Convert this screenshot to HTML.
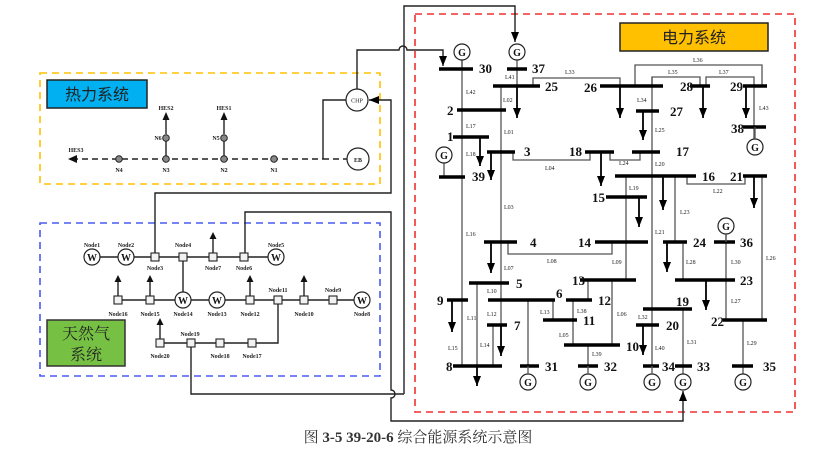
<!DOCTYPE html>
<html><head><meta charset="utf-8"><style>
html,body{margin:0;padding:0;background:#fff;}
svg{display:block;}
.b{stroke:#000;stroke-width:3.5;}
.l{stroke:#555;stroke-width:1.3;fill:none;}
.k{stroke:#222;stroke-width:1.4;fill:none;}
.n{font-family:"Liberation Serif",serif;font-weight:bold;font-size:13px;fill:#111;}
.s{font-family:"Liberation Serif",serif;font-size:6px;fill:#222;}
.g{fill:#fff;stroke:#222;stroke-width:1.2;}
.gt{font-family:"Liberation Serif",serif;font-weight:bold;font-size:10px;fill:#111;text-anchor:middle;}
.sq{fill:#f2f2f2;stroke:#222;stroke-width:1.1;}
</style></head><body>
<svg width="831" height="454" viewBox="0 0 831 454" xmlns="http://www.w3.org/2000/svg">
<defs>
<marker id="a" markerUnits="userSpaceOnUse" markerWidth="10" markerHeight="8" refX="10" refY="4" orient="auto" viewBox="0 0 10 8"><path d="M0,0 L10,4 L0,8 Z" fill="#000"/></marker>
</defs>

<!-- Power system box -->
<rect x="415" y="14" width="380" height="398" fill="none" stroke="#f03030" stroke-width="1.6" stroke-dasharray="7,5"/>
<rect x="620" y="23" width="148" height="28" fill="#FFC000" stroke="#222" stroke-width="1.5"/>
<text x="694" y="43" text-anchor="middle" font-family="'Liberation Sans','Noto Sans CJK SC',sans-serif" font-size="16" fill="#222">电力系统</text>

<!-- Heat box -->
<rect x="40" y="73" width="340" height="111" fill="none" stroke="#FFC000" stroke-width="1.6" stroke-dasharray="7,5"/>
<rect x="47" y="80" width="100" height="28" fill="#00B0F0" stroke="#222" stroke-width="1.5"/>
<text x="97" y="100" text-anchor="middle" font-family="'Liberation Sans','Noto Sans CJK SC',sans-serif" font-size="16" fill="#222">热力系统</text>

<!-- Gas box -->
<rect x="40" y="223" width="340" height="153" fill="none" stroke="#4a5cf0" stroke-width="1.6" stroke-dasharray="7,5"/>
<rect x="47" y="320" width="78" height="46" fill="#76C043" stroke="#333" stroke-width="1.5"/>
<text x="86" y="339" text-anchor="middle" font-family="'Liberation Serif','Noto Serif CJK SC',serif" font-size="16" fill="#222">天然气</text>
<text x="86" y="360" text-anchor="middle" font-family="'Liberation Serif','Noto Serif CJK SC',serif" font-size="16" fill="#222">系统</text>

<!-- Coupling lines -->
<path class="k" d="M357,89 V50 H399 a4,4 0 0 1 8,0 H443 V66" marker-end="url(#a)"/>
<path class="k" d="M404,394 V6 H515 V42" marker-end="url(#a)"/>
<path class="k" d="M155,253 V193 H391 V100 H369" marker-end="url(#a)"/>
<path class="k" d="M245,253 V212 H391 V390 a4,4 0 0 1 0,8 V421 H683 V391" marker-end="url(#a)"/>
<path class="k" d="M191,347 V394 H404"/>

<!-- Heat system -->
<path d="M72,159 H323" stroke="#222" stroke-width="1.6" stroke-dasharray="6,4" fill="none"/>
<path d="M68,159 l9,-4 v8 z" fill="#111"/>
<path d="M323,159 V100 H346" class="k"/>
<path d="M323,159 H347" stroke="#222" stroke-width="1.6" stroke-dasharray="6,4"/>
<path class="k" d="M166,159 V138 M224,159 V138"/>
<path class="k" d="M166,134 V118 M224,134 V118"/>
<path d="M166,112 l-3.5,8 h7 z M224,112 l-3.5,8 h7 z" fill="#111"/>
<g fill="#888" stroke="#222" stroke-width="1">
<circle cx="119" cy="159" r="3.3"/><circle cx="166" cy="159" r="3.3"/><circle cx="224" cy="159" r="3.3"/><circle cx="274" cy="159" r="3.3"/>
<circle cx="166" cy="138" r="3.3"/><circle cx="224" cy="138" r="3.3"/>
</g>
<circle class="g" cx="357" cy="100" r="11"/><text x="357" y="102.5" text-anchor="middle" class="s" font-size="7">CHP</text>
<circle class="g" cx="358" cy="159" r="11"/><text x="358" y="162" text-anchor="middle" class="s" font-weight="bold" font-size="8">EB</text>
<g class="s" text-anchor="middle" font-weight="bold">
<text x="76" y="152">HES3</text><text x="166" y="110">HES2</text><text x="224" y="110">HES1</text>
<text x="158" y="140">N6</text><text x="216" y="140">N5</text>
<text x="119" y="172">N4</text><text x="166" y="172">N3</text><text x="224" y="172">N2</text><text x="274" y="172">N1</text>
</g>

<!-- Gas system -->
<path class="k" d="M92,257 H276 M183,257 V300 M118,300 H362 M160,343 H252 H278 V300"/>
<path class="k" d="M213,253 V238 M118,296 V281 M150,296 V281 M250,296 V281 M304,296 V281 M160,339 V324"/>
<path d="M213,232 l-3.5,7 h7 z M118,275 l-3.5,7 h7 z M150,275 l-3.5,7 h7 z M250,275 l-3.5,7 h7 z M304,275 l-3.5,7 h7 z M160,318 l-3.5,7 h7 z" fill="#111"/>
<g>
<circle class="g" cx="92" cy="257" r="8"/><circle class="g" cx="126" cy="257" r="8"/><circle class="g" cx="276" cy="257" r="8"/>
<circle class="g" cx="183" cy="300" r="8"/><circle class="g" cx="217" cy="300" r="8"/><circle class="g" cx="362" cy="300" r="8"/>
</g>
<g class="gt"><text x="92" y="261">W</text><text x="126" y="261">W</text><text x="276" y="261">W</text><text x="183" y="304">W</text><text x="217" y="304">W</text><text x="362" y="304">W</text></g>
<g>
<rect class="sq" x="151" y="253" width="8" height="8"/><rect class="sq" x="179" y="253" width="8" height="8"/><rect class="sq" x="209" y="253" width="8" height="8"/><rect class="sq" x="240" y="253" width="8" height="8"/>
<rect class="sq" x="114" y="296" width="8" height="8"/><rect class="sq" x="146" y="296" width="8" height="8"/><rect class="sq" x="246" y="296" width="8" height="8"/><rect class="sq" x="274" y="296" width="8" height="8"/><rect class="sq" x="300" y="296" width="8" height="8"/><rect class="sq" x="329" y="296" width="8" height="8"/>
<rect class="sq" x="156" y="339" width="8" height="8"/><rect class="sq" x="187" y="339" width="8" height="8"/><rect class="sq" x="216" y="339" width="8" height="8"/><rect class="sq" x="248" y="339" width="8" height="8"/>
</g>
<g class="s" text-anchor="middle" font-weight="bold" font-size="5.5">
<text x="92" y="247">Node1</text><text x="126" y="247">Node2</text><text x="155" y="270">Node3</text><text x="183" y="247">Node4</text><text x="213" y="270">Node7</text><text x="244" y="270">Node6</text><text x="276" y="247">Node5</text>
<text x="118" y="316">Node16</text><text x="150" y="316">Node15</text><text x="183" y="316">Node14</text><text x="217" y="316">Node13</text><text x="250" y="316">Node12</text><text x="278" y="292">Node11</text><text x="304" y="316">Node10</text><text x="333" y="292">Node9</text><text x="362" y="316">Node8</text>
<text x="160" y="358">Node20</text><text x="190" y="336">Node19</text><text x="220" y="358">Node18</text><text x="252" y="358">Node17</text>
</g>

<!-- Power system thin lines -->
<g class="l">
<path d="M462,60 V366"/>
<path d="M501,86 V345"/>
<path d="M517,60 V86"/>
<path d="M533,86 V78 H620 V86"/>
<path d="M635,86 V65 H762 V86"/>
<path d="M652,86 V77 H700 V86"/>
<path d="M706,86 V77 H754 V139"/>
<path d="M652,77 V366"/>
<path d="M513,152 V160 H590 V152"/>
<path d="M610,152 V160 H640 V152"/>
<path d="M687,176 V184 H745 V176"/>
<path d="M762,176 V320"/>
<path d="M626,176 V280"/>
<path d="M675,176 V242"/>
<path d="M683,242 V280"/>
<path d="M726,234 V320"/>
<path d="M508,242 V254 H612 V242"/>
<path d="M477,283 V366"/>
<path d="M493,325 V366"/>
<path d="M528,300 V366"/>
<path d="M553,300 V320"/>
<path d="M573,300 V345"/>
<path d="M588,280 V300"/>
<path d="M612,280 V345"/>
<path d="M588,345 V366"/>
<path d="M683,309 V374"/>
<path d="M743,320 V374"/>
<path d="M444,163 V177"/>
<path d="M462,44 V69"/>
</g>

<!-- Arrows (loads) -->
<g stroke="#000" stroke-width="1.8">
<path d="M517,86 V118" marker-end="url(#a)"/>
<path d="M620,86 V118" marker-end="url(#a)"/>
<path d="M643,111 V140" marker-end="url(#a)"/>
<path d="M703,86 V118" marker-end="url(#a)"/>
<path d="M746,86 V118" marker-end="url(#a)"/>
<path d="M480,137 V166" marker-end="url(#a)"/>
<path d="M491,152 V180" marker-end="url(#a)"/>
<path d="M601,152 V186" marker-end="url(#a)"/>
<path d="M663,176 V210" marker-end="url(#a)"/>
<path d="M754,176 V208" marker-end="url(#a)"/>
<path d="M639,197 V227" marker-end="url(#a)"/>
<path d="M491,242 V273" marker-end="url(#a)"/>
<path d="M667,242 V272" marker-end="url(#a)"/>
<path d="M706,280 V310" marker-end="url(#a)"/>
<path d="M452,300 V332" marker-end="url(#a)"/>
<path d="M501,325 V356" marker-end="url(#a)"/>
<path d="M643,325 V355" marker-end="url(#a)"/>
<path d="M477,366 V386" marker-end="url(#a)"/>
</g>

<!-- Buses -->
<g class="b">
<path d="M439,69 H473"/><path d="M507,69 H527"/><path d="M493,86 H540"/><path d="M600,86 H663"/><path d="M690,86 H710"/><path d="M743,86 H767"/>
<path d="M457,110 H506"/><path d="M636,111 H659"/><path d="M743,127 H766"/>
<path d="M453,137 H489"/><path d="M487,152 H515"/><path d="M585,152 H614"/><path d="M632,152 H660"/>
<path d="M439,177 H465"/><path d="M615,176 H696"/><path d="M743,176 H767"/>
<path d="M606,197 H647"/>
<path d="M484,242 H517"/><path d="M595,242 H648"/><path d="M663,242 H687"/><path d="M714,242 H735"/>
<path d="M580,280 H636"/><path d="M675,280 H735"/><path d="M469,283 H509"/>
<path d="M488,300 H555"/><path d="M566,300 H592"/><path d="M447,300 H468"/>
<path d="M643,309 H692"/>
<path d="M543,320 H577"/><path d="M723,320 H767"/>
<path d="M487,325 H507"/><path d="M636,325 H659"/>
<path d="M564,345 H620"/>
<path d="M453,366 H502"/><path d="M520,366 H539"/><path d="M578,366 H598"/><path d="M643,366 H659"/><path d="M675,366 H692"/><path d="M732,366 H753"/>
</g>

<!-- Generators -->
<g>
<circle class="g" cx="462" cy="52" r="8"/><circle class="g" cx="517" cy="52" r="8"/><circle class="g" cx="444" cy="155" r="8"/><circle class="g" cx="755" cy="147" r="8"/><circle class="g" cx="726" cy="226" r="8"/>
<circle class="g" cx="528" cy="382" r="8"/><circle class="g" cx="588" cy="382" r="8"/><circle class="g" cx="652" cy="382" r="8"/><circle class="g" cx="683" cy="382" r="8"/><circle class="g" cx="743" cy="382" r="8"/>
</g>
<path class="l" d="M755,127 V139 M726,234 V242 M528,366 V374 M588,366 V374 M652,366 V374"/>
<g class="gt">
<text x="462" y="56">G</text><text x="517" y="56">G</text><text x="444" y="159">G</text><text x="755" y="151">G</text><text x="726" y="230">G</text>
<text x="528" y="386">G</text><text x="588" y="386">G</text><text x="652" y="386">G</text><text x="683" y="386">G</text><text x="743" y="386">G</text>
</g>

<!-- Bus numbers -->
<g class="n">
<text x="479" y="73">30</text><text x="532" y="73">37</text><text x="545" y="91">25</text><text x="584" y="92">26</text><text x="680" y="91">28</text><text x="730" y="91">29</text>
<text x="447" y="115">2</text><text x="670" y="116">27</text><text x="731" y="133">38</text>
<text x="447" y="141">1</text><text x="524" y="156">3</text><text x="569" y="156">18</text><text x="676" y="156">17</text>
<text x="472" y="181">39</text><text x="702" y="181">16</text><text x="730" y="181">21</text>
<text x="592" y="202">15</text>
<text x="530" y="247">4</text><text x="578" y="247">14</text><text x="693" y="247">24</text><text x="740" y="247">36</text>
<text x="572" y="285">13</text><text x="740" y="285">23</text><text x="516" y="288">5</text>
<text x="556" y="298">6</text><text x="598" y="305">12</text><text x="437" y="305">9</text><text x="676" y="306">19</text>
<text x="583" y="325">11</text><text x="711" y="326">22</text><text x="514" y="330">7</text><text x="666" y="330">20</text>
<text x="626" y="351">10</text>
<text x="446" y="371">8</text><text x="545" y="371">31</text><text x="604" y="371">32</text><text x="662" y="371">34</text><text x="697" y="371">33</text><text x="763" y="371">35</text>
</g>

<!-- Line labels -->
<g class="s">
<text x="505" y="79">L41</text><text x="565" y="74">L33</text><text x="693" y="62">L36</text><text x="668" y="74">L35</text><text x="719" y="74">L37</text>
<text x="466" y="94">L42</text><text x="503" y="102">L02</text><text x="637" y="102">L34</text><text x="759" y="110">L43</text>
<text x="466" y="128">L17</text><text x="504" y="134">L01</text><text x="655" y="132">L25</text>
<text x="466" y="156">L18</text><text x="545" y="170">L04</text><text x="619" y="165">L24</text><text x="655" y="166">L20</text>
<text x="629" y="190">L19</text><text x="713" y="193">L22</text>
<text x="504" y="209">L03</text><text x="680" y="214">L23</text>
<text x="466" y="236">L16</text><text x="655" y="234">L21</text><text x="766" y="260">L26</text>
<text x="504" y="270">L07</text><text x="547" y="263">L08</text><text x="612" y="264">L09</text><text x="686" y="264">L28</text><text x="731" y="264">L30</text>
<text x="487" y="293">L10</text><text x="731" y="303">L27</text>
<text x="467" y="320">L11</text><text x="487" y="316">L12</text><text x="540" y="314">L13</text><text x="577" y="313">L38</text><text x="617" y="316">L06</text><text x="638" y="319">L32</text>
<text x="559" y="337">L05</text><text x="687" y="344">L31</text><text x="747" y="345">L29</text>
<text x="480" y="347">L14</text><text x="448" y="350">L15</text><text x="592" y="356">L39</text><text x="655" y="350">L40</text>
</g>

<!-- Caption -->
<text x="418" y="442" text-anchor="middle" font-family="'Liberation Serif','Noto Serif CJK SC',serif" font-size="15" fill="#333">图 <tspan font-weight="bold">3-5 39-20-6</tspan> 综合能源系统示意图</text>
</svg>
</body></html>
